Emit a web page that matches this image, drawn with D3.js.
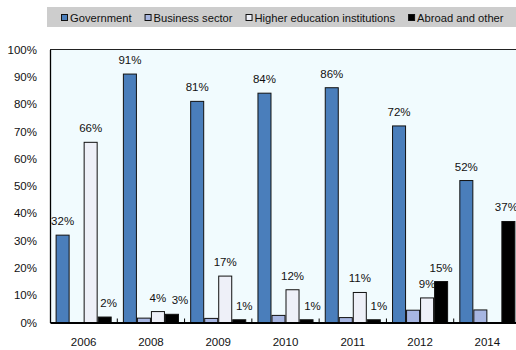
<!DOCTYPE html>
<html>
<head>
<meta charset="utf-8">
<script src="https://cdn.jsdelivr.net/npm/d3@7"></script>
<style>
  html, body { margin: 0; padding: 0; background: #fff; }
  svg { display: block; font-family: "Liberation Sans", Arial, sans-serif; }
</style>
</head>
<body>
<svg id="chart" width="516" height="350"></svg>
<script>
// Funding sources, share of total (%)
const years = ["2006", "2008", "2009", "2010", "2011", "2012", "2014"];
const seriesNames = ["Government", "Business sector", "Higher education institutions", "Abroad and other"];
const government = [32, 91, 81, 84, 86, 72, 52];
const business   = [0, 1.6, 1.5, 2.6, 1.8, 4.5, 4.6];
const higherEd   = [66, 4, 17, 12, 11, 9, 0];
const abroad     = [2, 3, 1, 1, 1, 15, 37];
const yTicks = [0, 10, 20, 30, 40, 50, 60, 70, 80, 90, 100];

const FONT = "'Liberation Sans', Arial, sans-serif";

// Which series carry value labels
const labelled = new Set(["Government", "Higher education institutions", "Abroad and other"]);
const colors = {
  "Government": "#4a7ebb",
  "Business sector": "#a7b6e2",
  "Higher education institutions": "#eef0f8",
  "Abroad and other": "#000000"
};

const values = { "Government": government, "Business sector": business,
  "Higher education institutions": higherEd, "Abroad and other": abroad };
const rows = years.map((y, i) => ({ year: y, items: seriesNames.map(s => ({ series: s, year: y, value: values[s][i] })) }));

const svg = d3.select("#chart");
const margin = { left: 50, top: 49.5, bottom: 322.5 };
const plotRight = 521;

const x = d3.scaleBand().domain(years).range([margin.left, plotRight]).padding(0);
const x1 = d3.scaleBand().domain(seriesNames).range([0, x.bandwidth()]).paddingInner(0).paddingOuter(0.4);
const y = d3.scaleLinear().domain([0, 100]).range([margin.bottom, margin.top]);

// plot background
svg.append("rect")
  .attr("x", margin.left).attr("y", margin.top)
  .attr("width", plotRight - margin.left).attr("height", margin.bottom - margin.top)
  .attr("fill", "#f1fbfe");

// top border
svg.append("line")
  .attr("x1", margin.left).attr("x2", plotRight)
  .attr("y1", margin.top).attr("y2", margin.top)
  .attr("stroke", "#222").attr("stroke-width", 1);

// bars
const groups = svg.append("g").selectAll("g").data(rows).join("g")
  .attr("transform", d => `translate(${x(d.year)},0)`);

groups.selectAll("rect").data(d => d.items.filter(e => e.value > 0)).join("rect")
  .attr("x", d => x1(d.series) + 0.5)
  .attr("y", d => y(d.value))
  .attr("width", x1.bandwidth() - 1)
  .attr("height", d => y(0) - y(d.value))
  .attr("fill", d => colors[d.series])
  .attr("stroke", "#111").attr("stroke-width", 1);

// small labels nudged aside so they clear neighbouring text
const nudge = { "Abroad and other|2006": 4, "Abroad and other|2008": 8, "Abroad and other|2009": 5,
  "Abroad and other|2010": 6, "Abroad and other|2011": 5, "Abroad and other|2014": -2 };

groups.selectAll("text.val").data(d => d.items.filter(e => labelled.has(e.series) && e.value > 0)).join("text")
  .attr("class", "val")
  .attr("x", d => x1(d.series) + x1.bandwidth() / 2 + (nudge[d.series + "|" + d.year] || 0))
  .attr("y", d => y(d.value) - 10)
  .attr("text-anchor", "middle")
  .attr("font-size", 11.5)
  .attr("font-family", FONT)
  .attr("fill", "#111")
  .text(d => d3.format(".0f")(d.value) + "%");

// y axis
const yAxis = svg.append("g").attr("transform", `translate(${margin.left},0)`)
  .call(d3.axisLeft(y).tickValues(yTicks).tickSize(0).tickPadding(13).tickFormat(d => d + "%"));
yAxis.select(".domain").attr("stroke", "#000").attr("stroke-width", 1.3);
yAxis.selectAll("text").attr("font-size", 11.5).attr("fill", "#111").attr("font-family", FONT);

// x axis
const xAxis = svg.append("g").attr("transform", `translate(0,${margin.bottom})`)
  .call(d3.axisBottom(x).tickSize(0).tickPadding(15));
xAxis.select(".domain").attr("stroke", "#000").attr("stroke-width", 2);
xAxis.selectAll("text").attr("font-size", 11.5).attr("fill", "#111").attr("font-family", FONT);

// separators between year groups
svg.append("g").selectAll("line").data(years.slice(1)).join("line")
  .attr("x1", d => x(d)).attr("x2", d => x(d))
  .attr("y1", margin.bottom).attr("y2", margin.bottom - 4)
  .attr("stroke", "#000").attr("stroke-width", 1);

// legend
const legend = svg.append("g");
legend.append("rect").attr("x", 47).attr("y", 7).attr("width", 469).attr("height", 20).attr("fill", "#cdcdcd");
let lx = 61;
seriesNames.forEach(s => {
  legend.append("rect").attr("x", lx + 0.5).attr("y", 14.5).attr("width", 6).attr("height", 6)
    .attr("fill", colors[s]).attr("stroke", "#111").attr("stroke-width", 1);
  const t = legend.append("text").attr("x", lx + 9).attr("y", 21.5)
    .attr("font-size", 11.2).attr("font-family", FONT).attr("fill", "#111").text(s);
  lx = lx + 9 + t.node().getComputedTextLength() + 13;
});
</script>
</body>
</html>
